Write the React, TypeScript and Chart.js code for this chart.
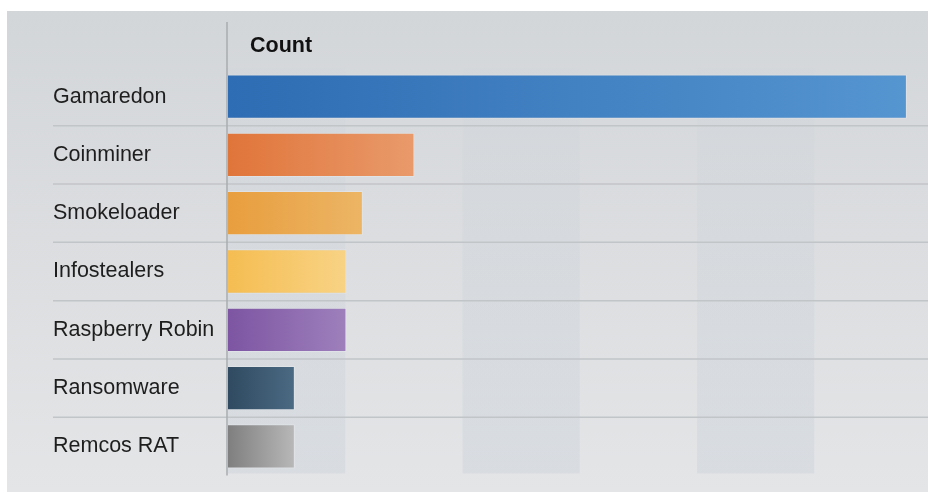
import React, { useEffect, useRef } from "react";
import { Chart, registerables } from "chart.js";

Chart.register(...registerables);

const categories = [
  "Gamaredon",
  "Coinminer",
  "Smokeloader",
  "Infostealers",
  "Raspberry Robin",
  "Ransomware",
  "Remcos RAT",
];
const counts = [57.9, 15.9, 11.5, 10.1, 10.1, 5.7, 5.7];
const colorStart = ["#2e6cb3", "#e0753a", "#e89e3e", "#f5bd52", "#7d55a2", "#2f4a61", "#7f7f7f"];
const colorEnd = ["#5595d0", "#e99a6b", "#ecb565", "#f8d385", "#9e80bc", "#4b6a83", "#b8b8b8"];
const headerText = "Count";
const xMax = 59.7;
const bandStep = 10;

const FONT = "'Liberation Sans', Arial, Helvetica, sans-serif";

const decorPlugin = {
  id: "decor",
  beforeDraw(chart: any) {
    const { ctx, width, height, chartArea } = chart;
    ctx.save();
    ctx.fillStyle = "#ffffff";
    ctx.fillRect(0, 0, width, height);
    const g = ctx.createLinearGradient(0, 11, 0, height);
    g.addColorStop(0, "#d3d6d9");
    g.addColorStop(1, "#e4e5e7");
    ctx.fillStyle = g;
    ctx.fillRect(7, 11, width - 7, height - 11);

    // alternating vertical bands (fading in toward the bottom)
    const xs = chart.scales.x;
    const bg = ctx.createLinearGradient(0, chartArea.top, 0, chartArea.bottom);
    bg.addColorStop(0, "rgba(185,198,210,0.04)");
    bg.addColorStop(0.2, "rgba(185,198,210,0.10)");
    bg.addColorStop(1, "rgba(185,198,210,0.26)");
    for (let i = 0; i * bandStep < xMax; i += 2) {
      const x0 = xs.getPixelForValue(i * bandStep);
      const x1 = xs.getPixelForValue((i + 1) * bandStep);
      ctx.fillStyle = bg;
      ctx.fillRect(x0, chartArea.top, x1 - x0, chartArea.bottom - chartArea.top - 2);
    }

    // row separators
    const ys = chart.scales.y;
    ctx.strokeStyle = "#c2c5c8";
    ctx.lineWidth = 1.5;
    for (let i = 0; i < categories.length - 1; i++) {
      const y = (ys.getPixelForValue(i) + ys.getPixelForValue(i + 1)) / 2;
      ctx.beginPath();
      ctx.moveTo(53, y);
      ctx.lineTo(width, y);
      ctx.stroke();
    }

    // vertical axis line
    ctx.strokeStyle = "#a9acaf";
    ctx.lineWidth = 1.5;
    ctx.beginPath();
    ctx.moveTo(chartArea.left - 1, 22);
    ctx.lineTo(chartArea.left - 1, chartArea.bottom);
    ctx.stroke();

    // header
    ctx.fillStyle = "#111111";
    ctx.font = `bold 21.5px ${FONT}`;
    ctx.textBaseline = "middle";
    ctx.textAlign = "left";
    ctx.fillText(headerText, 250, 46);
    ctx.restore();
  },
};

export default function App() {
  const ref = useRef<HTMLCanvasElement | null>(null);

  useEffect(() => {
    if (!ref.current) return;
    const chart = new Chart(ref.current, {
      type: "bar",
      data: {
        labels: categories,
        datasets: [
          {
            data: counts,
            backgroundColor: (c: any) => {
              const ch = c.chart;
              const area = ch.chartArea;
              const i = c.dataIndex;
              if (!area || i === undefined) return colorStart[i || 0];
              const xEnd = ch.scales.x.getPixelForValue(counts[i]);
              const gr = ch.ctx.createLinearGradient(area.left, 0, xEnd, 0);
              gr.addColorStop(0, colorStart[i]);
              gr.addColorStop(1, colorEnd[i]);
              return gr;
            },
            borderColor: "rgba(255,255,255,0.22)",
            borderWidth: 1,
            barPercentage: 0.76,
            categoryPercentage: 1,
          },
        ],
      },
      options: {
        indexAxis: "y",
        animation: false,
        responsive: false,
        maintainAspectRatio: false,
        layout: { padding: { left: 53, right: 0, top: 67.5, bottom: 16.5 } },
        plugins: { legend: { display: false }, tooltip: { enabled: false }, title: { display: false } },
        scales: {
          x: {
            display: false,
            min: 0,
            max: xMax,
          },
          y: {
            offset: true,
            grid: { display: false },
            border: { display: false },
            afterFit: (s: any) => {
              s.width = 175;
            },
            ticks: {
              crossAlign: "far",
              padding: 0,
              color: "#1e1e1e",
              font: { family: FONT, size: 21.5 },
            },
          },
        },
      },
      plugins: [decorPlugin],
    } as any);
    return () => chart.destroy();
  }, []);

  return (
    <div style={{ position: "fixed", left: 0, top: 0, width: 928, height: 492 }}>
      <canvas ref={ref} width={928} height={492} style={{ display: "block", width: 928, height: 492 }} />
    </div>
  );
}
